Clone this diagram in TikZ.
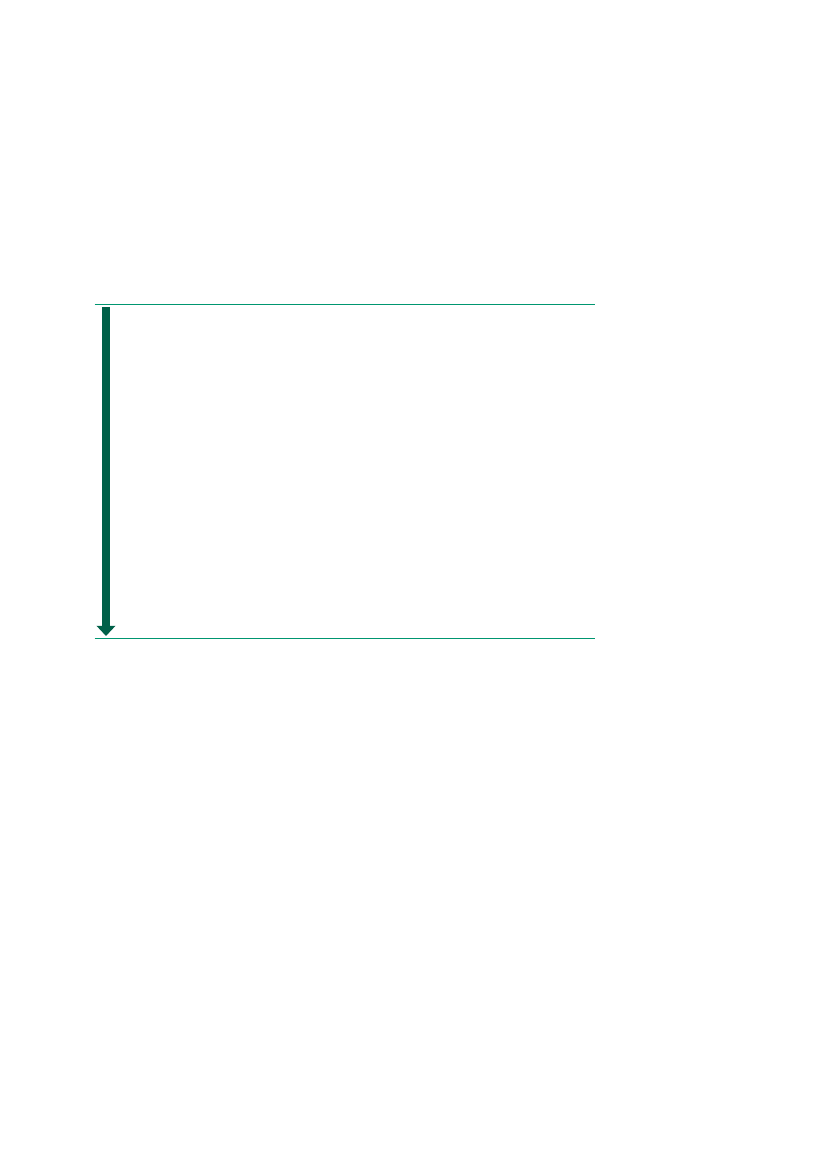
\documentclass[tikz,border=0pt]{standalone}
\usetikzlibrary{arrows.meta}
\definecolor{rulegreen}{RGB}{0,150,112}
\definecolor{arrowgreen}{RGB}{0,96,72}
\tikzset{
	rulebar/.style = {draw=rulegreen, line width=0.75pt},
	downarrow/.style = {draw=arrowgreen, line width=2.05mm, -{Triangle[length=2.6mm, width=4.7mm]}}
}
\begin{document}
\begin{tikzpicture}[x=0.2540mm, y=-0.2540mm]
		\useasboundingbox (0,0) rectangle (827,1169);
		% rules
		\coordinate (topleft) at (94.5,304.3);
		\coordinate (topright) at (595,304.3);
		\coordinate (botleft) at (94.5,638.3);
		\coordinate (botright) at (595,638.3);
		\draw [rulebar] (topleft) -- (topright);
		\draw [rulebar] (botleft) -- (botright);
		% arrow
		\coordinate (start) at (106,306.8);
		\coordinate (tip) at (106,636);
		\draw [downarrow] (start) -- (tip);
\end{tikzpicture}
\end{document}
